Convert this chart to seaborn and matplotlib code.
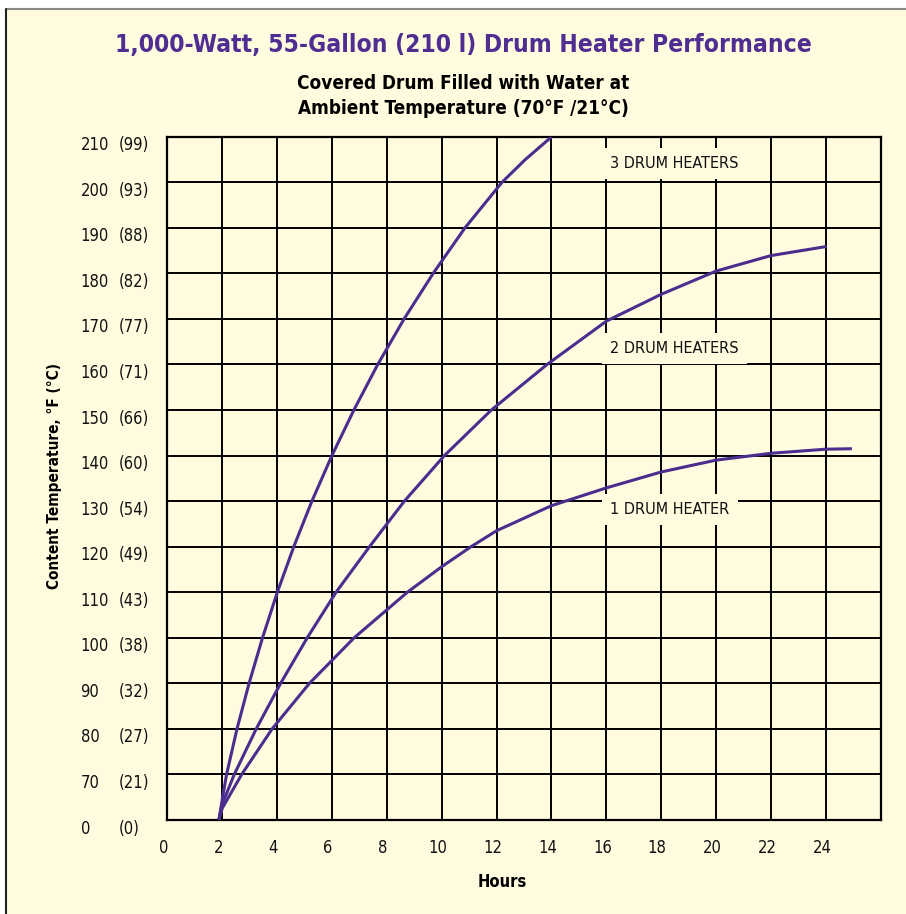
import numpy as np
import pandas as pd
import matplotlib
matplotlib.use("Agg")
import matplotlib.pyplot as plt
import matplotlib.transforms as mtransforms
from matplotlib import font_manager
from matplotlib.patches import Rectangle
from matplotlib.lines import Line2D
import seaborn as sns

# ---------------- data ----------------
hours_3 = [1.88, 2.00, 2.16, 2.54, 2.98, 3.47, 4.01, 4.61, 5.27, 6.00, 6.80, 7.67, 8.63,
           9.69, 10.85, 12.20, 13.05, 14.01]
temp_3 = [0, 31, 70, 80, 90, 100, 110, 120, 130, 140, 150, 160, 170,
          180, 190, 200, 205, 210]

hours_2 = [1.88, 2.00, 2.44, 3.24, 4.13, 5.10, 6.15, 7.37, 8.64, 10.10, 11.81, 13.84,
           16.00, 18.00, 20.00, 22.00, 24.03]
temp_2 = [0, 24, 70, 80, 90, 100, 110, 120, 130, 140, 150, 160,
          169.5, 175.4, 180.5, 183.9, 185.9]

hours_1 = [1.88, 2.00, 2.71, 3.82, 5.18, 6.81, 8.75, 10.00, 11.07, 12.00, 14.00,
           16.00, 18.00, 20.00, 22.00, 24.00, 24.95]
temp_1 = [0, 18, 70, 80, 90, 100, 110, 115.6, 120, 123.5, 129.0,
          132.9, 136.4, 139.0, 140.5, 141.4, 141.5]

series_names = ["3 DRUM HEATERS", "2 DRUM HEATERS", "1 DRUM HEATER"]
label_hour = [16.15, 16.15, 16.15]
label_temp = [204.2, 163.6, 128.1]

x_ticks = [0, 2, 4, 6, 8, 10, 12, 14, 16, 18, 20, 22, 24]
x_grid = [0, 2, 4, 6, 8, 10, 12, 14, 16, 18, 20, 22, 24, 26]
y_ticks_f = [0, 70, 80, 90, 100, 110, 120, 130, 140, 150, 160, 170, 180, 190, 200, 210]
y_ticks_c = [0, 21, 27, 32, 38, 43, 49, 54, 60, 66, 71, 77, 82, 88, 93, 99]

title = "1,000-Watt, 55-Gallon (210 l) Drum Heater Performance"
subtitle = "Covered Drum Filled with Water at\nAmbient Temperature (70°F /21°C)"
xlabel = "Hours"
ylabel = "Content Temperature, °F (°C)"

# ---------------- style ----------------
BG = "#FFFBDF"
PURPLE = "#4B2D8E"
TITLE_PURPLE = "#4F2D91"

sns.set_theme(style="white")

# pick a condensed sans if one is installed
names = {f.name for f in font_manager.fontManager.ttflist}
cond = [f for f in font_manager.fontManager.ttflist
        if f.name == "DejaVu Sans" and "ondensed" in f.fname]
if "Liberation Sans Narrow" in names:
    FAMILY = ["Liberation Sans Narrow", "DejaVu Sans"]
    STRETCH = "normal"
    SCALE = 1.0
elif cond:
    FAMILY = ["DejaVu Sans"]
    STRETCH = "condensed"
    SCALE = 0.95
else:
    FAMILY = ["Liberation Sans", "DejaVu Sans"]
    STRETCH = "normal"
    SCALE = 0.95
plt.rcParams["font.family"] = FAMILY
plt.rcParams["font.stretch"] = STRETCH

df = pd.concat([
    pd.DataFrame({"hours": hours_3, "temp": temp_3, "series": series_names[0]}),
    pd.DataFrame({"hours": hours_2, "temp": temp_2, "series": series_names[1]}),
    pd.DataFrame({"hours": hours_1, "temp": temp_1, "series": series_names[2]}),
], ignore_index=True)

W, H = 906, 914
fig = plt.figure(figsize=(W / 100, H / 100), dpi=100, facecolor="white")

# panel background with border
fig.patches.append(Rectangle((6 / W, 0), 1, 1 - 9 / H, transform=fig.transFigure,
                             facecolor=BG, edgecolor="none", zorder=-10))
fig.lines.append(Line2D([6 / W, 1], [1 - 9 / H, 1 - 9 / H], transform=fig.transFigure,
                        color="#8a8a8a", lw=1.5, zorder=-5))
fig.lines.append(Line2D([6 / W, 6 / W], [0, 1 - 9 / H], transform=fig.transFigure,
                        color="#222222", lw=1.5, zorder=-5))

left, right, top, bottom = 167.3, 880.7, 136.7, 820.0
ax = fig.add_axes([left / W, 1 - bottom / H, (right - left) / W, (bottom - top) / H])
ax.set_facecolor(BG)
ax.set_zorder(1)


def fwd(t):
    t = np.asarray(t, dtype=float)
    return np.where(t < 70, t / 70.0, (t - 70.0) / 10.0 + 1.0)


def inv(p):
    p = np.asarray(p, dtype=float)
    return np.where(p < 1, p * 70.0, (p - 1.0) * 10.0 + 70.0)


ax.set_yscale("function", functions=(fwd, inv))

sns.lineplot(data=df, x="hours", y="temp", hue="series", units="series", estimator=None,
             palette=[PURPLE, PURPLE, PURPLE], linewidth=2.2, legend=False, ax=ax,
             sort=True, zorder=3)
for ln in ax.lines:
    ln.set_solid_joinstyle("round")
    ln.set_solid_capstyle("butt")

ax.set_xlim(0, 26)
ax.set_ylim(0, 210)
ax.set_xticks(x_grid)
ax.set_xticklabels([str(v) if v in x_ticks else "" for v in x_grid])
ax.set_yticks(y_ticks_f)
ax.set_yticklabels([])
ax.grid(True, color="black", linewidth=1.4)
ax.set_axisbelow(True)
ax.tick_params(axis="both", length=0)
ax.tick_params(axis="x", pad=14, labelsize=12.5 * SCALE, labelcolor="#111111")
for s in ax.spines.values():
    s.set_color("black")
    s.set_linewidth(1.6)
ax.set_xlabel("")
ax.set_ylabel("")

offset_x = mtransforms.ScaledTranslation(-4 / 100, 0, fig.dpi_scale_trans)
for lab in ax.get_xticklabels():
    lab.set_transform(lab.get_transform() + offset_x)

# y tick labels (two columns)
down = mtransforms.ScaledTranslation(0, -8.5 / 100, fig.dpi_scale_trans)
btf = mtransforms.blended_transform_factory(fig.transFigure, ax.transData) + down
for f, c in zip(y_ticks_f, y_ticks_c):
    ax.text(80.5 / W, f, str(f), transform=btf, ha="left", va="center",
            fontsize=12.5 * SCALE, color="#111111", clip_on=False)
    ax.text(118.3 / W, f, f"({c})", transform=btf, ha="left", va="center",
            fontsize=12.5 * SCALE, color="#111111", clip_on=False)

# curve labels
for name, hx, ty in zip(series_names, label_hour, label_temp):
    ax.text(hx, ty, name, ha="left", va="center", fontsize=12.2 * SCALE, color="#111111",
            zorder=4, bbox=dict(boxstyle="square,pad=0.5", facecolor=BG, edgecolor="none"))

fig.text(463 / W, 1 - 45 / H, title, ha="center", va="center", fontsize=18.6 * SCALE,
         fontweight="bold", color=TITLE_PURPLE)
fig.text(463 / W, 1 - 96 / H, subtitle, ha="center", va="center", fontsize=14.3 * SCALE,
         fontweight="bold", color="black", linespacing=1.38)
fig.text(502 / W, 1 - 882 / H, xlabel, ha="center", va="center", fontsize=12.5 * SCALE,
         fontweight="bold", color="black")
fig.text(55 / W, 1 - 476 / H, ylabel, ha="center", va="center", fontsize=11.6 * SCALE,
         fontweight="bold", color="black", rotation=90)

fig.savefig("out.png", dpi=100, facecolor="white")
